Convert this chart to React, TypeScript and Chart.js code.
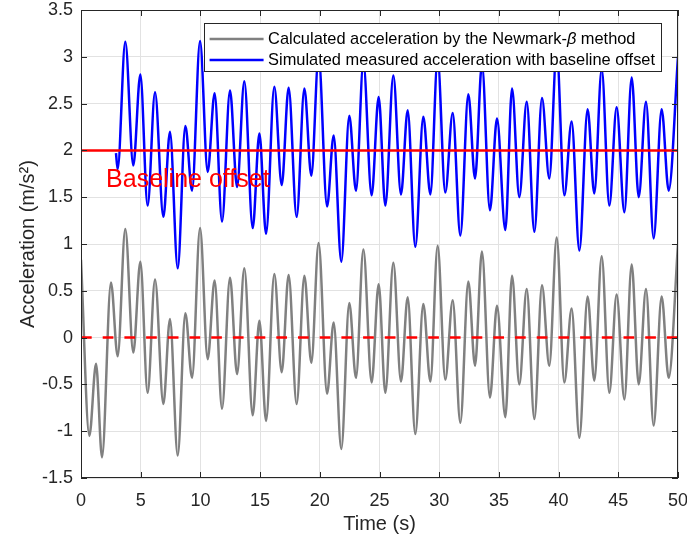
import React, { useEffect, useRef } from "react";
import { Chart, registerables } from "chart.js";

Chart.register(...registerables);

// ---- data ----
// Calculated acceleration (Newmark-beta): extrema times (s) and values (m/s^2)
const calcTimes = [
  0, 0.7, 1.26, 1.76, 2.51, 3.07, 3.71, 4.38, 4.97, 5.58, 6.2, 6.9, 7.45, 8.1,
  8.74, 9.3, 9.97, 10.61, 11.19, 11.81, 12.48, 13.07, 13.68, 14.38, 14.94, 15.5,
  16.19, 16.81, 17.39, 18.06, 18.71, 19.29, 19.9, 20.61, 21.16, 21.8, 22.47,
  23.03, 23.65, 24.34, 24.93, 25.49, 26.16, 26.8, 27.36, 28.0, 28.67, 29.26,
  29.87, 30.51, 31.13, 31.77, 32.44, 33.0, 33.58, 34.25, 34.84, 35.54, 36.1,
  36.71, 37.33, 37.97, 38.61, 39.22, 39.84, 40.48, 41.09, 41.74, 42.43, 42.99,
  43.61, 44.25, 44.86, 45.51, 46.12, 46.71, 47.32, 47.96, 48.63, 49.22, 50.0,
];
const calcValues = [
  0.83, -1.05, -0.28, -1.28, 0.59, -0.2, 1.16, -0.16, 0.81, -0.59, 0.62, -0.71,
  0.2, -1.26, 0.26, -0.43, 1.17, -0.23, 0.61, -0.76, 0.64, -0.39, 0.74, -0.83,
  0.18, -0.89, 0.68, -0.37, 0.67, -0.71, 0.66, -0.27, 1.01, -0.6, 0.16, -1.19,
  0.37, -0.43, 0.94, -0.48, 0.57, -0.59, 0.8, -0.47, 0.43, -1.03, 0.36, -0.47,
  0.98, -0.45, 0.4, -0.91, 0.6, -0.3, 0.92, -0.64, 0.34, -0.85, 0.66, -0.5,
  0.52, -0.87, 0.56, -0.3, 1.07, -0.48, 0.31, -1.07, 0.44, -0.46, 0.87, -0.59,
  0.46, -0.66, 0.78, -0.5, 0.52, -0.94, 0.44, -0.43, 1.0,
];

// Simulated measured acceleration with baseline offset (starts at ~3 s)
const measTimes = [
  2.93, 3.07, 3.71, 4.38, 4.97, 5.58, 6.2, 6.9, 7.45, 8.1, 8.74, 9.3, 9.97,
  10.61, 11.19, 11.81, 12.48, 13.07, 13.68, 14.38, 14.94, 15.5, 16.19, 16.81,
  17.39, 18.06, 18.71, 19.29, 19.9, 20.61, 21.16, 21.8, 22.47, 23.03, 23.65,
  24.34, 24.93, 25.49, 26.16, 26.8, 27.36, 28.0, 28.67, 29.26, 29.87, 30.51,
  31.13, 31.77, 32.44, 33.0, 33.58, 34.25, 34.84, 35.54, 36.1, 36.71, 37.33,
  37.97, 38.61, 39.22, 39.84, 40.48, 41.09, 41.74, 42.43, 42.99, 43.61, 44.25,
  44.86, 45.51, 46.12, 46.71, 47.32, 47.96, 48.63, 49.22, 50.0,
];
const measValues = [
  1.97, 1.8, 3.16, 1.84, 2.81, 1.41, 2.62, 1.29, 2.2, 0.74, 2.26, 1.57, 3.17,
  1.77, 2.61, 1.24, 2.64, 1.61, 2.74, 1.17, 2.18, 1.11, 2.68, 1.63, 2.67, 1.29,
  2.66, 1.73, 3.01, 1.4, 2.16, 0.81, 2.37, 1.57, 2.94, 1.52, 2.57, 1.41, 2.8,
  1.53, 2.43, 0.97, 2.36, 1.53, 2.98, 1.55, 2.4, 1.09, 2.6, 1.7, 2.92, 1.36,
  2.34, 1.15, 2.66, 1.5, 2.52, 1.13, 2.56, 1.7, 3.07, 1.52, 2.31, 0.93, 2.44,
  1.54, 2.87, 1.41, 2.46, 1.34, 2.78, 1.5, 2.52, 1.06, 2.44, 1.57, 3.0,
];

// Reference levels
const levelTimes = [0, 50];
const offsetLevel = [2, 2];
const zeroLevel = [0, 0];

// Axes
const xTicks = [0, 5, 10, 15, 20, 25, 30, 35, 40, 45, 50];
const yTicks = [-1.5, -1, -0.5, 0, 0.5, 1, 1.5, 2, 2.5, 3, 3.5];
const xTitle = "Time (s)";
const yTitle = "Acceleration (m/s²)";

// Legend / annotation text
const calcLabel = ["Calculated acceleration by the Newmark-", "β", " method"];
const measLabel = "Simulated measured acceleration with baseline offset";
const annotationText = "Baseline offset";
const annotationAnchor = [2.1, 1.68]; // data coordinates (s, m/s^2)

const FONT = "'Liberation Sans', Arial, Helvetica, sans-serif";
const AXIS_COLOR = "#262626";

const toPoints = (xs: number[], ys: number[]) =>
  xs.map((x, i) => ({ x, y: ys[i] }));

const matlabPlugin = {
  id: "matlabDecor",
  afterDatasetsDraw(chart: any) {
    const { ctx, chartArea: a, scales } = chart;
    const xs = scales.x;
    const ys = scales.y;
    ctx.save();

    // annotation text
    ctx.fillStyle = "#ff0000";
    ctx.font = `25px ${FONT}`;
    ctx.textAlign = "left";
    ctx.textBaseline = "middle";
    ctx.fillText(
      annotationText,
      xs.getPixelForValue(annotationAnchor[0]),
      ys.getPixelForValue(annotationAnchor[1])
    );

    // axes box
    ctx.strokeStyle = AXIS_COLOR;
    ctx.lineWidth = 1;
    ctx.strokeRect(a.left + 0.5, a.top + 0.5, a.width - 1, a.height - 1);

    // inward ticks on all sides
    const tl = 6;
    ctx.beginPath();
    xs.ticks.forEach((t: any) => {
      const px = Math.round(xs.getPixelForValue(t.value)) + 0.5;
      ctx.moveTo(px, a.bottom);
      ctx.lineTo(px, a.bottom - tl);
      ctx.moveTo(px, a.top);
      ctx.lineTo(px, a.top + tl);
    });
    ys.ticks.forEach((t: any) => {
      const py = Math.round(ys.getPixelForValue(t.value)) + 0.5;
      ctx.moveTo(a.left, py);
      ctx.lineTo(a.left + tl, py);
      ctx.moveTo(a.right, py);
      ctx.lineTo(a.right - tl, py);
    });
    ctx.stroke();

    // legend box
    const fs = 16.4;
    const normal = `${fs}px ${FONT}`;
    const italic = `italic ${fs}px ${FONT}`;
    ctx.font = normal;
    const w0 = ctx.measureText(calcLabel[0]).width;
    const w2 = ctx.measureText(calcLabel[2]).width;
    ctx.font = italic;
    const w1 = ctx.measureText(calcLabel[1]).width;
    ctx.font = normal;
    const wMeas = ctx.measureText(measLabel).width;
    const textW = Math.max(w0 + w1 + w2, wMeas);
    const padX = 6;
    const lineLen = 54;
    const gap = 4.5;
    const boxW = padX + lineLen + gap + textW + padX;
    const boxH = 48;
    const boxRight = a.right - 17;
    const boxTop = a.top + 13;
    const boxLeft = boxRight - boxW;
    ctx.fillStyle = "#ffffff";
    ctx.fillRect(boxLeft, boxTop, boxW, boxH);
    ctx.strokeStyle = AXIS_COLOR;
    ctx.lineWidth = 1;
    ctx.strokeRect(Math.round(boxLeft) + 0.5, Math.round(boxTop) + 0.5, Math.round(boxW), Math.round(boxH));

    const ds = chart.data.datasets;
    const rows = [
      { color: ds[3].borderColor, parts: true },
      { color: ds[2].borderColor, parts: false },
    ];
    rows.forEach((r, i) => {
      const cy = boxTop + 16 + i * 21;
      ctx.strokeStyle = r.color;
      ctx.lineWidth = 2.5;
      ctx.beginPath();
      ctx.moveTo(boxLeft + padX, cy);
      ctx.lineTo(boxLeft + padX + lineLen, cy);
      ctx.stroke();
      ctx.fillStyle = "#000000";
      ctx.textBaseline = "middle";
      ctx.textAlign = "left";
      let tx = boxLeft + padX + lineLen + gap;
      if (r.parts) {
        ctx.font = normal;
        ctx.fillText(calcLabel[0], tx, cy);
        tx += w0;
        ctx.font = italic;
        ctx.fillText(calcLabel[1], tx, cy);
        tx += w1;
        ctx.font = normal;
        ctx.fillText(calcLabel[2], tx, cy);
      } else {
        ctx.font = normal;
        ctx.fillText(measLabel, tx, cy);
      }
    });

    ctx.restore();
  },
};

export default function App() {
  const canvasRef = useRef<HTMLCanvasElement | null>(null);

  useEffect(() => {
    document.body.style.margin = "0";
    const canvas = canvasRef.current;
    if (!canvas) return;

    const chart = new Chart(canvas, {
      type: "line",
      data: {
        datasets: [
          {
            label: "Baseline offset level",
            data: toPoints(levelTimes, offsetLevel),
            borderColor: "#ff0000",
            borderWidth: 2.5,
            pointRadius: 0,
            order: 0,
          },
          {
            label: "Zero level",
            data: toPoints(levelTimes, zeroLevel),
            borderColor: "#ff0000",
            borderWidth: 2.5,
            borderDash: [10.7, 11],
            pointRadius: 0,
            order: 0,
          },
          {
            label: measLabel,
            data: toPoints(measTimes, measValues),
            borderColor: "#0000ff",
            borderWidth: 2.5,
            pointRadius: 0,
            cubicInterpolationMode: "monotone",
            order: 1,
          },
          {
            label: calcLabel.join(""),
            data: toPoints(calcTimes, calcValues),
            borderColor: "#808080",
            borderWidth: 2.5,
            pointRadius: 0,
            cubicInterpolationMode: "monotone",
            order: 2,
          },
        ],
      },
      options: {
        animation: false,
        responsive: false,
        devicePixelRatio: 1,
        parsing: false as any,
        layout: { padding: { top: 10, right: 9, bottom: 0, left: 0 } },
        plugins: {
          legend: { display: false },
          tooltip: { enabled: false },
        },
        scales: {
          x: {
            type: "linear",
            min: 0,
            max: 50,
            afterBuildTicks: (s: any) => {
              s.ticks = xTicks.map((v) => ({ value: v }));
            },
            afterFit: (s: any) => {
              s.height = 67;
              s.paddingLeft = 0;
              s.paddingRight = 0;
            },
            grid: { color: "#e2e2e2", lineWidth: 1, drawTicks: false },
            border: { display: false },
            ticks: {
              font: { family: FONT, size: 18 },
              color: AXIS_COLOR,
              padding: 12,
              maxRotation: 0,
              autoSkip: false,
              callback: (v: any) => String(v),
            },
            title: {
              display: true,
              text: xTitle,
              font: { family: FONT, size: 20 },
              color: AXIS_COLOR,
              padding: { top: 0, bottom: 9 },
            },
          },
          y: {
            type: "linear",
            min: -1.5,
            max: 3.5,
            afterBuildTicks: (s: any) => {
              s.ticks = yTicks.map((v) => ({ value: v }));
            },
            afterFit: (s: any) => {
              s.width = 81;
              s.paddingTop = 0;
              s.paddingBottom = 0;
            },
            grid: { color: "#e2e2e2", lineWidth: 1, drawTicks: false },
            border: { display: false },
            ticks: {
              font: { family: FONT, size: 18 },
              color: AXIS_COLOR,
              padding: 8,
              autoSkip: false,
              callback: (v: any) => String(v),
            },
            title: {
              display: true,
              text: yTitle,
              font: { family: FONT, size: 20 },
              color: AXIS_COLOR,
              padding: { top: 16, bottom: 0 },
            },
          },
        },
      },
      plugins: [matlabPlugin],
    });

    return () => chart.destroy();
  }, []);

  return (
    <div style={{ width: 687, height: 545 }}>
      <canvas ref={canvasRef} width={687} height={545} style={{ display: "block" }} />
    </div>
  );
}
